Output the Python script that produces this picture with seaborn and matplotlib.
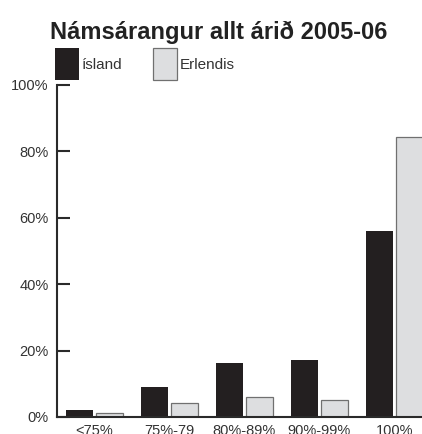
import pandas as pd
import numpy as np
import seaborn as sns
import matplotlib.pyplot as plt

categories = ["<75%", "75%-79", "80%-89%", "90%-99%", "100%"]
island = [2, 9, 16.2, 17.1, 56]
erlendis = [1.1, 4.1, 6.1, 5, 84.3]
series_names = ["ísland", "Erlendis"]
palette = {"ísland": "#231f20", "Erlendis": "#dddee0"}

df = pd.DataFrame({
    "flokkur": categories * 2,
    "hlutfall": island + erlendis,
    "hopur": [series_names[0]] * len(categories) + [series_names[1]] * len(categories),
})

sns.set_style("white")
plt.rcParams["font.family"] = ["Liberation Sans", "DejaVu Sans"]

fig = plt.figure(figsize=(4.22, 4.34), dpi=100)
ax = fig.add_axes([57 / 422, 17 / 434, 375 / 422, 332 / 434])

sns.barplot(data=df, x="flokkur", y="hlutfall", hue="hopur", palette=palette,
            order=categories, hue_order=series_names, width=0.8, gap=0.12,
            saturation=1, ax=ax)

# light bars get a thin grey outline, dark ones none
for p in ax.patches:
    fc = p.get_facecolor()
    if fc[0] > 0.5:
        p.set_edgecolor("#707070")
        p.set_linewidth(0.9)
    else:
        p.set_edgecolor("none")

ax.set_xlim(-0.5, 4.5)
ax.set_ylim(0, 100)
ax.set_yticks([0, 20, 40, 60, 80, 100])
ax.set_yticklabels(["0%", "20%", "40%", "60%", "80%", "100%"])
ax.set_xlabel("")
ax.set_ylabel("")
ax.tick_params(axis="y", direction="in", length=9, width=1.5, color="#2a2a2a",
               labelsize=10.5, labelcolor="#333333", pad=6, left=True)
ax.tick_params(axis="x", length=0, labelsize=10.5, labelcolor="#333333", pad=5)
for s in ["top", "right"]:
    ax.spines[s].set_visible(False)
for s in ["left", "bottom"]:
    ax.spines[s].set_color("#2a2a2a")
    ax.spines[s].set_linewidth(1.5)

handles, labels = ax.get_legend_handles_labels()
ax.legend(handles, labels, ncol=2, frameon=False, fontsize=11,
          loc="lower left", bbox_to_anchor=(55 / 422, 1 - 80 / 434),
          bbox_transform=fig.transFigure, borderpad=0, borderaxespad=0,
          handlelength=1.55, handleheight=2.85, handletextpad=0.2,
          columnspacing=2.0, labelcolor="#333333")

fig.text(219 / 422, 1 - 32 / 434, "Námsárangur allt árið 2005-06", ha="center",
         va="center", fontsize=17, fontweight="bold", color="#222222")

fig.savefig("out.png", dpi=100)
